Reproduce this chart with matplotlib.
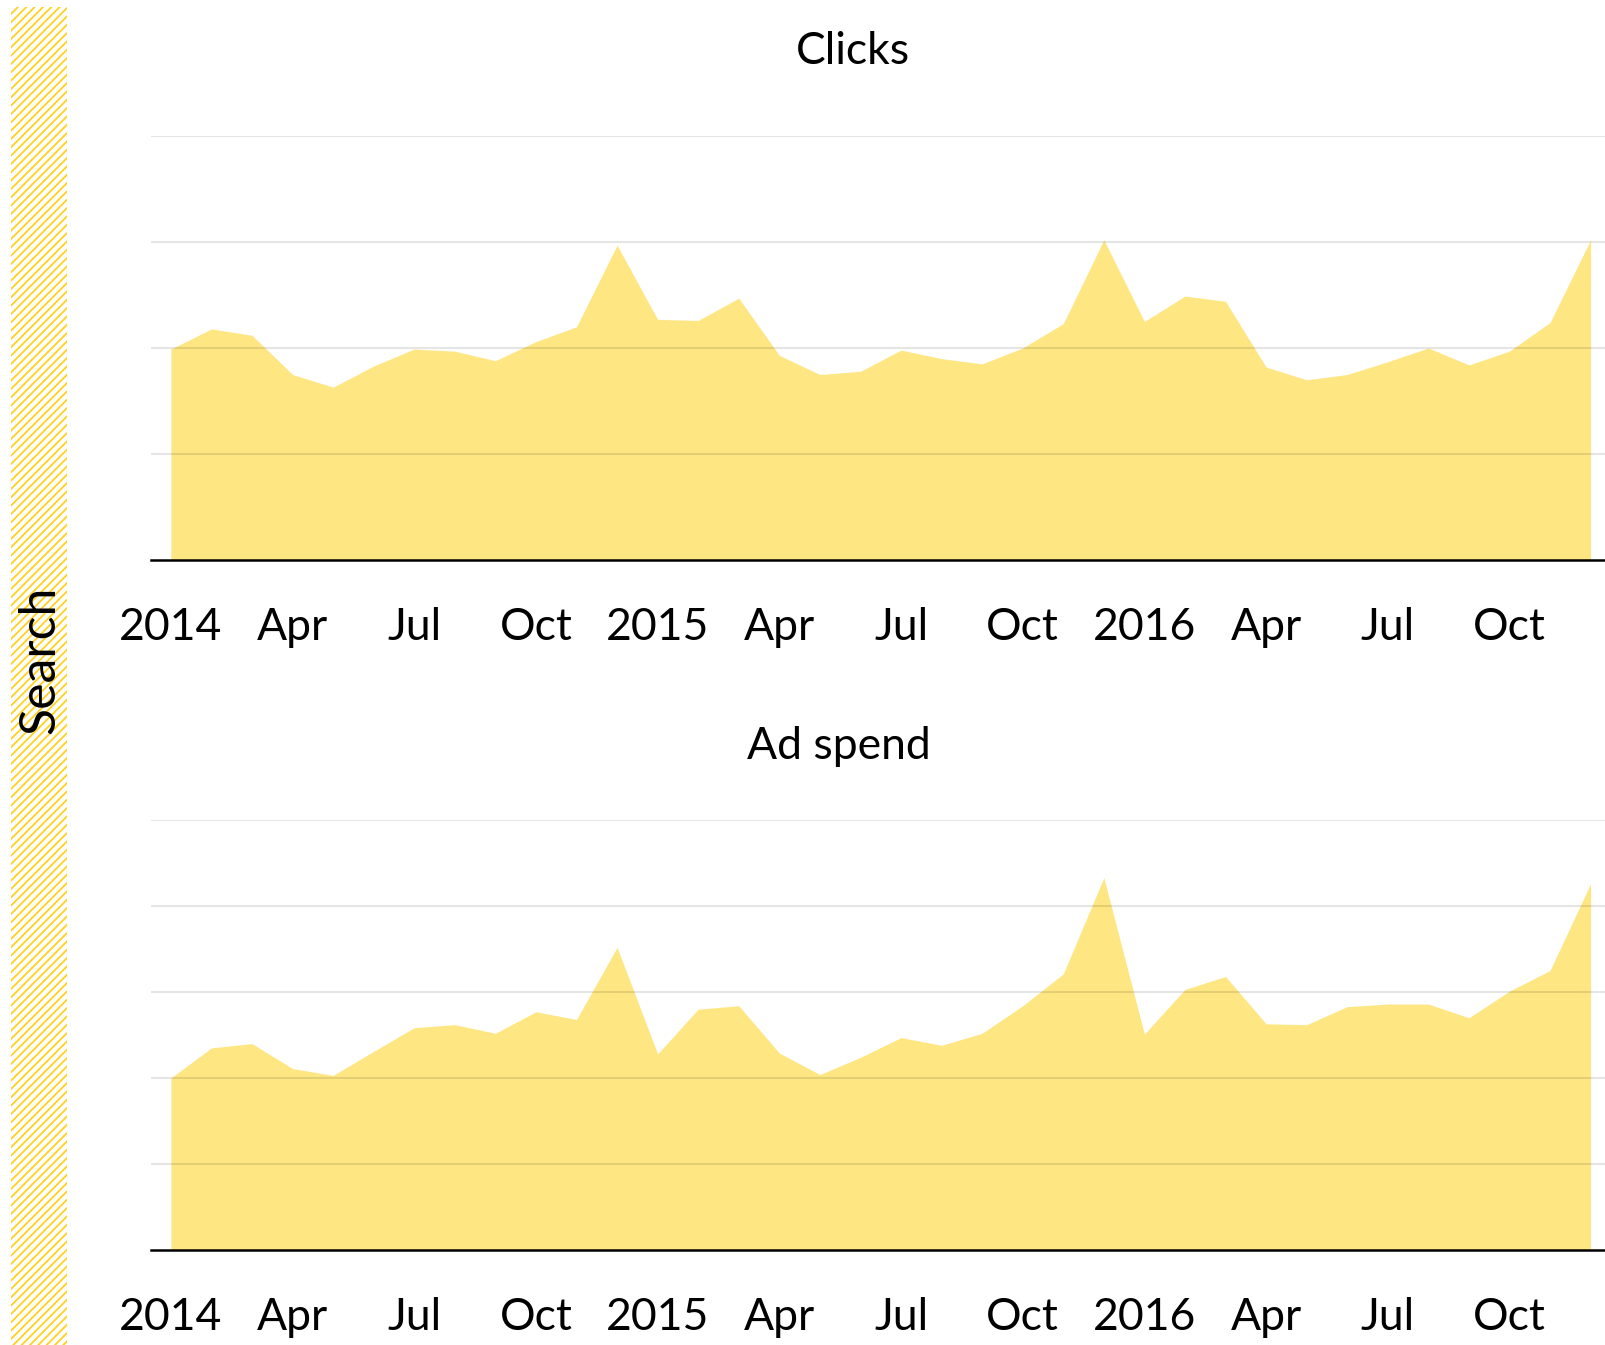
import numpy as np
import matplotlib
matplotlib.use("Agg")
import matplotlib.pyplot as plt
from matplotlib.patches import Rectangle

# ---- data ----
months = list(range(36))  # Jan 2014 .. Dec 2016
clicks = [1.99, 2.18, 2.12, 1.75, 1.63, 1.83, 1.99, 1.97, 1.88, 2.06, 2.20, 2.97,
          2.27, 2.26, 2.47, 1.93, 1.75, 1.78, 1.98, 1.90, 1.85, 2.00, 2.23, 3.02,
          2.25, 2.49, 2.44, 1.82, 1.70, 1.75, 1.87, 2.00, 1.84, 1.97, 2.24, 3.02]
ad_spend = [2.00, 2.35, 2.40, 2.11, 2.03, 2.31, 2.585, 2.62, 2.52, 2.77, 2.68, 3.52,
            2.28, 2.80, 2.84, 2.29, 2.04, 2.24, 2.47, 2.38, 2.52, 2.84, 3.21, 4.33,
            2.51, 3.03, 3.18, 2.63, 2.62, 2.83, 2.86, 2.86, 2.70, 3.01, 3.25, 4.26]
tick_pos = [0, 3, 6, 9, 12, 15, 18, 21, 24, 27, 30, 33]
tick_labels = ["2014", "Apr", "Jul", "Oct", "2015", "Apr", "Jul", "Oct",
               "2016", "Apr", "Jul", "Oct"]
panel_titles = ["Clicks", "Ad spend"]
row_label = "Search"

plt.rcParams['font.family'] = ['Lato', 'DejaVu Sans']

W, H = 1606, 1345
fig = plt.figure(figsize=(W / 100, H / 100), dpi=100)

FILL = "#FEE682"
HATCH = "#FFD21F"

def fx(px):
    return px / W

def fy(py):
    return 1 - py / H

# left hatched strip
plt.rcParams['hatch.linewidth'] = 1.3
strip = Rectangle((fx(11), 0), fx(56), fy(7), transform=fig.transFigure,
                  facecolor="white", edgecolor=HATCH, hatch="////", linewidth=0)
fig.patches.append(strip)
fig.text(fx(40), fy(660), row_label, rotation=90, ha="center", va="center",
         fontsize=36, color="black")

left = 150.6
panels = [
    dict(top=136, bottom=560, ymax=4, data=clicks, tx=853, ty=64),
    dict(top=820, bottom=1250, ymax=5, data=ad_spend, tx=839, ty=759),
]

for p, title in zip(panels, panel_titles):
    ax = fig.add_axes([fx(left), fy(p["bottom"]), 1 - fx(left),
                       (p["bottom"] - p["top"]) / H])
    ax.fill_between(months, p["data"], 0, color=FILL, linewidth=0, zorder=1)
    ax.set_xlim(-0.5, 35.38)
    ax.set_ylim(0, p["ymax"])
    for yv in range(1, p["ymax"] + 1):
        ax.axhline(yv, color="black", alpha=0.1, linewidth=1.5, zorder=2)
    for s in ["top", "right", "left"]:
        ax.spines[s].set_visible(False)
    ax.spines["bottom"].set_linewidth(1.8)
    ax.spines["bottom"].set_zorder(3)
    ax.set_yticks([])
    ax.set_xticks(tick_pos)
    ax.set_xticklabels(tick_labels)
    ax.tick_params(axis="x", length=0, pad=34, labelsize=32)
    ax.patch.set_visible(False)
    fig.text(fx(p["tx"]), fy(p["ty"]), title, ha="center", va="baseline",
             fontsize=32, color="black")

fig.savefig("out.png", dpi=100, facecolor="white")
